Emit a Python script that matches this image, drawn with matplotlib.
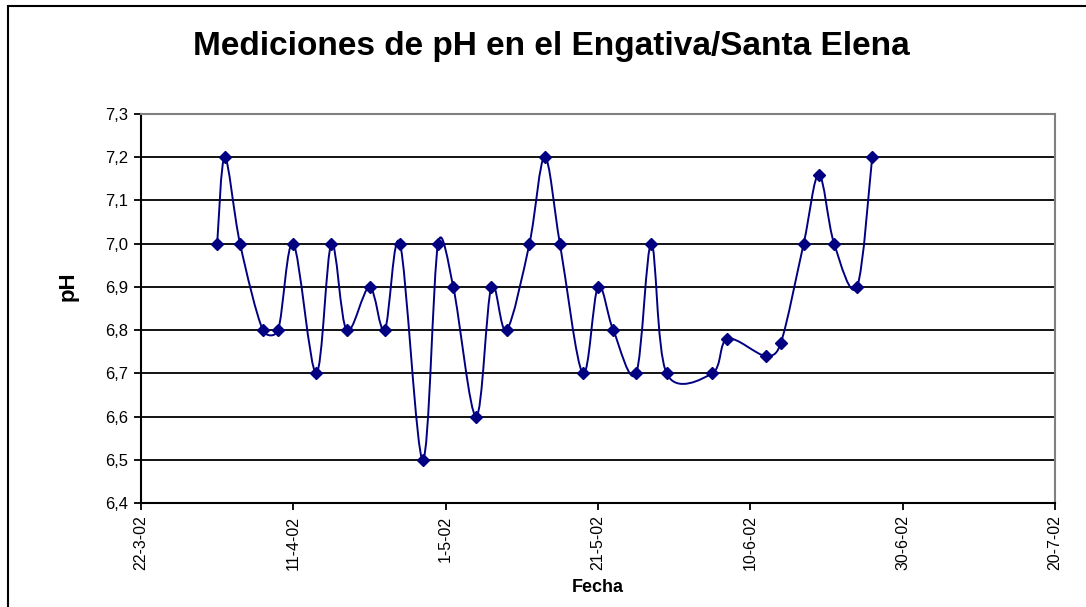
import math
import datetime as dt
import matplotlib
matplotlib.use('Agg')
import matplotlib.pyplot as plt
import matplotlib.dates as mdates
from matplotlib.path import Path
from matplotlib.patches import PathPatch, Rectangle

plt.rcParams['font.family'] = ['Liberation Sans', 'DejaVu Sans']

# datos
fechas = ["2002-04-01", "2002-04-02", "2002-04-04", "2002-04-07", "2002-04-09",
          "2002-04-11", "2002-04-14", "2002-04-16", "2002-04-18", "2002-04-21",
          "2002-04-23", "2002-04-25", "2002-04-28", "2002-04-30", "2002-05-02",
          "2002-05-05", "2002-05-07", "2002-05-09", "2002-05-12", "2002-05-14",
          "2002-05-16", "2002-05-19", "2002-05-21", "2002-05-23", "2002-05-26",
          "2002-05-28", "2002-05-30", "2002-06-05", "2002-06-07", "2002-06-12",
          "2002-06-14", "2002-06-17", "2002-06-19", "2002-06-21", "2002-06-24",
          "2002-06-26"]
ph = [7.0, 7.2, 7.0, 6.8, 6.8, 7.0, 6.7, 7.0, 6.8, 6.9, 6.8, 7.0, 6.5, 7.0,
      6.9, 6.6, 6.9, 6.8, 7.0, 7.2, 7.0, 6.7, 6.9, 6.8, 6.7, 7.0, 6.7,
      6.7, 6.78, 6.74, 6.77, 7.0, 7.16, 7.0, 6.9, 7.2]
ticks_fecha = ["2002-03-22", "2002-04-11", "2002-05-01", "2002-05-21",
               "2002-06-10", "2002-06-30", "2002-07-20"]
ticks_ph = [6.4, 6.5, 6.6, 6.7, 6.8, 6.9, 7.0, 7.1, 7.2, 7.3]

color = '#000080'
W, H = 1086, 607
ax_l, ax_r, ax_t, ax_b = 141, 1055, 114, 503

x = [mdates.date2num(dt.date.fromisoformat(f)) for f in fechas]
xt = [mdates.date2num(dt.date.fromisoformat(f)) for f in ticks_fecha]

fig = plt.figure(figsize=(W / 100, H / 100), dpi=100)
ax = fig.add_axes([ax_l / W, 1 - ax_b / H, (ax_r - ax_l) / W, (ax_b - ax_t) / H])

# marco exterior del grafico
fig.patches.append(Rectangle((8 / W, -0.1), 2, 1 - 6 / H + 0.1,
                             transform=fig.transFigure, fill=False,
                             edgecolor='black', linewidth=1.5))

# lineas de cuadricula
for v in ticks_ph[1:-1]:
    ax.axhline(v, color='black', linewidth=1.3, zorder=1)

# escala aproximada en pixeles para el suavizado
sx = (ax_r - ax_l) / (xt[-1] - xt[0])
sy = (ax_b - ax_t) / (ticks_ph[-1] - ticks_ph[0])


def ctrl(pa, pb, pc, sign):
    # punto de control tipo Excel: tangente (pc - pa)/6, limitada
    dx, dy = (pc[0] - pa[0]) / 6, (pc[1] - pa[1]) / 6
    lt = math.hypot(dx * sx, dy * sy)
    q = pc if sign > 0 else pa
    ls = math.hypot((q[0] - pb[0]) * sx, (q[1] - pb[1]) * sy)
    if lt > 0 and lt > 0.5 * ls:
        k = 0.5 * ls / lt
        dx, dy = dx * k, dy * k
    return (pb[0] + sign * dx, pb[1] + sign * dy)


pts = list(zip(x, ph))
n = len(pts)
verts = [pts[0]]
codes = [Path.MOVETO]
for i in range(n - 1):
    p0 = pts[max(i - 1, 0)]
    p1 = pts[i]
    p2 = pts[i + 1]
    p3 = pts[min(i + 2, n - 1)]
    verts += [ctrl(p0, p1, p2, 1), ctrl(p1, p2, p3, -1), p2]
    codes += [Path.CURVE4] * 3
ax.add_patch(PathPatch(Path(verts, codes), facecolor='none',
                       edgecolor=color, linewidth=1.4, zorder=2))
ax.plot(x, ph, linestyle='none', marker='D', markersize=6.5,
        color=color, zorder=3)

ax.set_xlim(xt[0], xt[-1])
ax.set_ylim(6.4, 7.3)
ax.set_xticks(xt)
ax.set_xticklabels([f"{d.day}-{d.month}-{d:%y}" for d in
                    (dt.date.fromisoformat(f) for f in ticks_fecha)],
                   rotation=90, fontsize=11.5)
ax.set_yticks(ticks_ph)
ax.set_yticklabels([f"{v:.1f}".replace('.', ',') for v in ticks_ph],
                   fontsize=12)
ax.tick_params(axis='both', direction='out', length=5, width=1.3,
               color='black', pad=4)

for s in ['left', 'bottom']:
    ax.spines[s].set_color('black')
    ax.spines[s].set_linewidth(1.5)
for s in ['top', 'right']:
    ax.spines[s].set_color('#808080')
    ax.spines[s].set_linewidth(1.5)

fig.text(551 / W, 1 - 47 / H, "Mediciones de pH en el Engativa/Santa Elena",
         ha='center', va='center', fontsize=24, fontweight='bold')
fig.text(598 / W, 1 - 588 / H, "Fecha", ha='center', va='center',
         fontsize=13, fontweight='bold')
fig.text(68 / W, 1 - 286 / H, "pH", ha='center', va='center',
         rotation=90, fontsize=16, fontweight='bold')

fig.savefig("out.png", dpi=100)
